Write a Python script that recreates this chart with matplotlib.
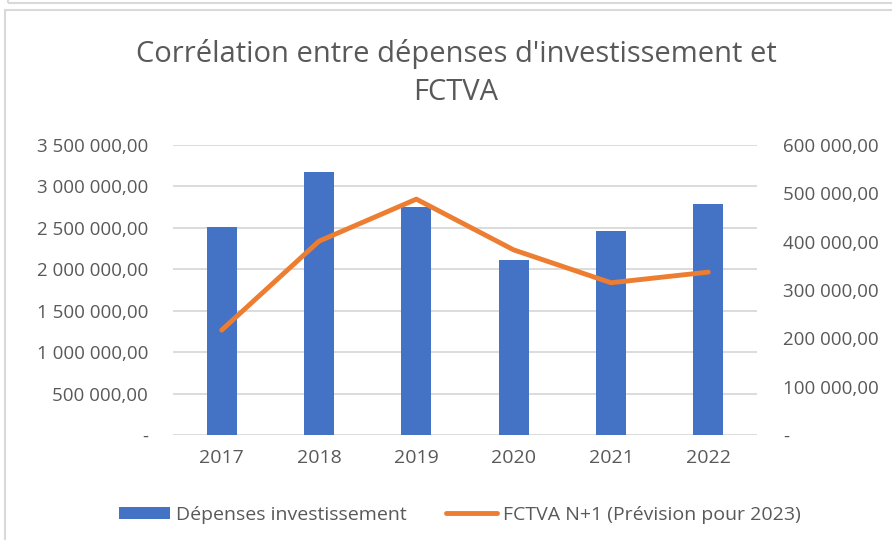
import matplotlib
matplotlib.use('Agg')
import matplotlib.pyplot as plt
from matplotlib.patches import Rectangle
from matplotlib.ticker import FuncFormatter, MultipleLocator

years = ['2017', '2018', '2019', '2020', '2021', '2022']
depenses = [2508000, 3169000, 2752000, 2107000, 2464000, 2785000]
fctva = [217000, 401000, 488000, 383000, 315000, 337000]

blue = '#4472C4'
orange = '#ED7D31'
grey_txt = '#595959'

plt.rcParams['font.family'] = ['Open Sans', 'DejaVu Sans']


def fr_fmt(v, pos):
    if abs(v) < 1e-6:
        return '-'
    s = '{:,.2f}'.format(v)
    return s.replace(',', ' ').replace('.', ',')


fig = plt.figure(figsize=(8.92, 5.4), dpi=100)
# cadre du graphique (capture d'ecran)
fig.patches.append(Rectangle((5 / 892, -0.01), 1.0, 1 - 10 / 540 + 0.01, transform=fig.transFigure,
                             fill=False, edgecolor='#D9D9D9', linewidth=1.5))
fig.patches.append(Rectangle((8 / 892, 1 - 3 / 540), 1.0, 0.02, transform=fig.transFigure,
                             fill=False, edgecolor='#D9D9D9', linewidth=1.5))

ax = fig.add_axes([173 / 892, 1 - 435 / 540, 584 / 892, 290 / 540])
x = range(len(years))
bars = ax.bar(x, depenses, width=0.31, color=blue, label='Dépenses investissement', zorder=2)
ax.set_ylim(0, 3500000)
ax.set_xlim(-0.5, len(years) - 0.5)
ax.yaxis.set_major_locator(MultipleLocator(500000))
ax.yaxis.set_major_formatter(FuncFormatter(fr_fmt))
ax.set_xticks(list(x))
ax.set_xticklabels(years)
ax.grid(axis='y', color='#D9D9D9', linewidth=1.3, zorder=0)
for s in ax.spines.values():
    s.set_visible(False)
ax.tick_params(axis='y', length=0, colors=grey_txt, labelsize=13.5, pad=18)
ax.tick_params(axis='x', length=0, colors=grey_txt, labelsize=14, pad=10)

ax2 = ax.twinx()
line, = ax2.plot(x, fctva, color=orange, linewidth=3.5, solid_capstyle='round',
                 label='FCTVA N+1 (Prévision pour 2023)', zorder=3)
ax2.set_ylim(0, 600000)
ax2.yaxis.set_major_locator(MultipleLocator(100000))
ax2.yaxis.set_major_formatter(FuncFormatter(fr_fmt))
for s in ax2.spines.values():
    s.set_visible(False)
ax2.tick_params(axis='y', length=0, colors=grey_txt, labelsize=13.5, pad=19)

fig.text(456 / 892, 1 - 73 / 540, "Corrélation entre dépenses d'investissement et\nFCTVA",
         ha='center', va='center', fontsize=21, color=grey_txt, linespacing=1.4)

fig.legend([bars, line], ['Dépenses investissement', 'FCTVA N+1 (Prévision pour 2023)'],
           loc='center', bbox_to_anchor=(460 / 892, 1 - 515 / 540), ncol=2, frameon=False,
           fontsize=14, labelcolor=grey_txt, columnspacing=2.0, handlelength=2.6,
           handletextpad=0.35, handleheight=0.6)

fig.savefig('out.png', dpi=100)
